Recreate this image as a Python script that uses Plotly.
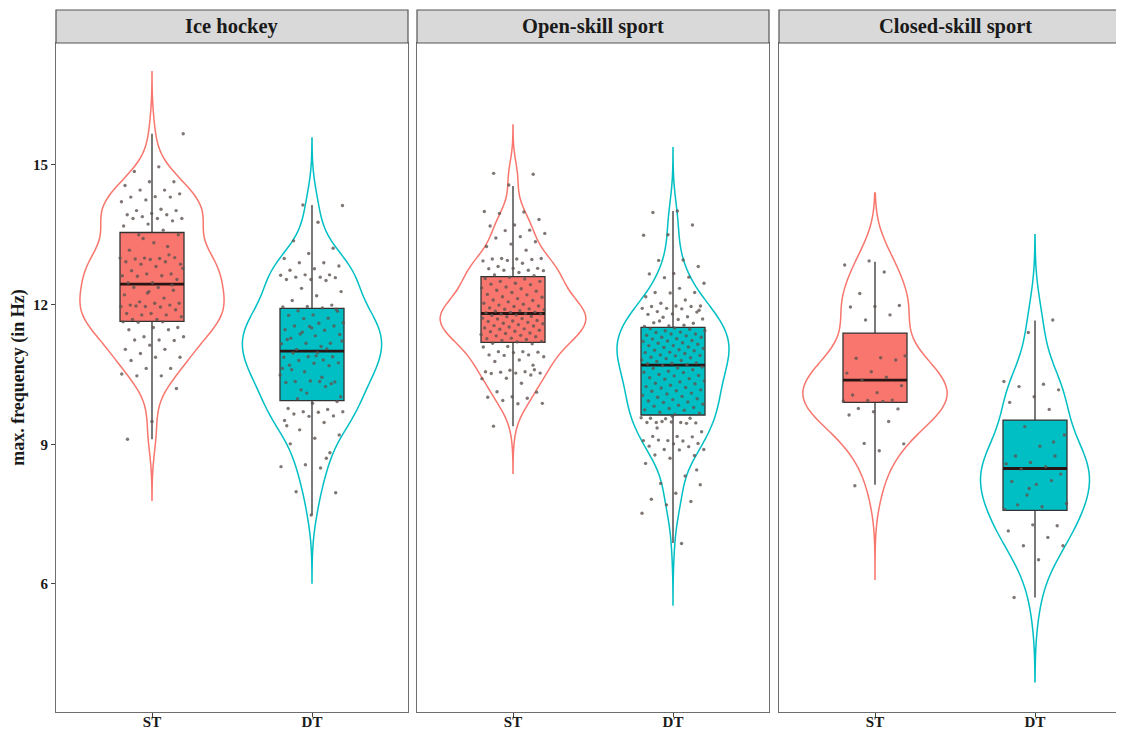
import plotly.graph_objects as go

# ---------------- data ----------------
panels = ["Ice hockey", "Open-skill sport", "Closed-skill sport"]
conditions = ["ST", "DT"]

ih_st = [15.67, 14.96, 14.86, 14.64, 14.64, 14.56, 14.46, 14.46, 14.38, 14.32, 14.31, 14.31, 14.25, 14.21,
         14.05, 14.02, 14.02, 13.96, 13.93, 13.93, 13.89, 13.85, 13.85, 13.85, 13.80, 13.73, 13.69, 13.60,
         13.50, 13.50,
         13.33, 13.17, 13.07, 13.00, 13.00, 12.99, 12.98, 13.01, 12.97, 12.92, 12.92, 12.87, 12.87, 12.82,
         12.73, 12.66, 12.66, 12.62, 12.62, 12.61, 12.54, 12.47, 12.47, 13.25, 13.42, 12.78,
         12.37, 12.37, 12.31, 12.28, 12.21, 12.14, 12.06, 12.03, 12.03, 11.99, 11.99, 11.96, 11.96, 11.95,
         11.97, 11.89, 11.81, 11.81, 11.78, 11.78, 11.74, 11.68, 11.68, 12.42, 12.25,
         11.63, 11.63, 11.62, 11.51, 11.51, 11.46, 11.46, 11.31, 11.31, 11.24, 11.24, 11.23, 11.13, 11.04,
         11.04, 10.95, 10.87, 10.87, 10.80, 10.63, 10.63, 10.51, 10.47, 10.47, 10.20, 9.49, 9.11]

ih_dt = [14.14, 14.13, 13.77, 13.37, 13.21, 13.10, 12.99, 12.90, 12.90, 12.83, 12.77, 12.74, 12.64, 12.64,
         12.63, 12.59, 12.59, 12.58, 12.54, 12.54, 12.52, 12.35, 12.28, 12.19, 12.09, 11.99, 11.96, 11.95,
         11.93,
         11.87, 11.86, 11.78, 11.77, 11.71, 11.70, 11.61, 11.60, 11.54, 11.54, 11.53, 11.46, 11.45, 11.37,
         11.36, 11.33, 11.28, 11.17, 11.17, 11.16, 11.10, 11.04, 11.90, 11.50, 11.25, 11.05, 11.41, 11.22,
         10.97, 10.96, 10.88, 10.88, 10.87, 10.81, 10.80, 10.75, 10.74, 10.70, 10.69, 10.56, 10.49, 10.35,
         10.35, 10.34, 10.36, 10.33, 10.24, 10.17, 10.02, 10.90, 10.60, 10.30, 10.10, 10.63, 10.44, 9.98,
         9.92, 9.88, 9.77, 9.75, 9.70, 9.70, 9.69, 9.65, 9.61, 9.60, 9.51, 9.47, 9.31, 9.20, 9.13, 9.01,
         8.82, 8.56, 8.52, 8.49, 7.98, 7.96, 7.48, 9.40, 8.70]

os_st = [14.82, 14.80, 14.57, 14.00, 13.99, 13.96, 13.83, 13.71, 13.69, 13.60, 13.59, 13.53, 13.46, 13.43,
         13.35, 13.30, 13.25, 13.17, 12.99, 12.99, 12.98, 12.98, 12.97, 12.95, 12.94, 12.89, 12.82, 12.78,
         12.78, 12.77, 12.74, 12.74, 12.73, 12.69, 12.64, 12.62,
         12.59, 12.56, 12.55, 12.50, 12.50, 12.46, 12.44, 12.43, 12.38, 12.36, 12.34, 12.31, 12.29, 12.26,
         12.22, 12.21, 12.17, 12.16, 12.13, 12.10, 12.09, 12.06, 12.03, 12.01, 11.99, 11.97, 11.96, 11.93,
         11.91, 11.90, 11.89, 11.87, 11.86, 11.84, 11.83, 11.82, 11.81,
         11.80, 11.80, 11.78, 11.77, 11.75, 11.74, 11.71, 11.70, 11.69, 11.66, 11.65, 11.64, 11.62, 11.60,
         11.59, 11.57, 11.55, 11.54, 11.52, 11.50, 11.48, 11.47, 11.45, 11.43, 11.42, 11.39, 11.38, 11.36,
         11.34, 11.33, 11.31, 11.28, 11.27, 11.25, 11.23, 11.21, 11.20,
         11.17, 11.16, 11.10, 11.09, 10.99, 10.99, 10.98, 10.97, 10.92, 10.92, 10.91, 10.88, 10.81, 10.78,
         10.60, 10.59, 10.56, 10.56, 10.55, 10.53, 10.53, 10.52, 10.49, 10.42, 10.41, 10.31, 10.13, 10.12,
         10.02, 10.01, 9.99, 9.94, 9.88, 9.87, 9.39, 10.70]

os_dt = [14.01, 13.98, 13.71, 13.50, 13.49, 12.96, 12.95, 12.82, 12.67, 12.66, 12.59, 12.58, 12.46, 12.35,
         12.26, 12.26, 12.25, 12.17, 12.10, 12.03, 11.97, 11.97, 11.96, 11.96, 11.92, 11.92, 11.91, 11.85,
         11.84, 11.80, 11.79, 11.74, 11.73, 11.69, 11.68, 11.61, 11.60, 11.54, 11.53, 11.56, 11.65, 11.88,
         11.50, 11.48, 11.47, 11.44, 11.44, 11.41, 11.40, 11.37, 11.37, 11.34, 11.33, 11.30, 11.30, 11.27,
         11.26, 11.23, 11.22, 11.21, 11.18, 11.17, 11.15, 11.12, 11.12, 11.09, 11.08, 11.06, 11.03, 11.02,
         11.01, 10.98, 10.97, 10.95, 10.92, 10.91, 10.90, 10.87, 10.86, 10.84, 10.81, 10.80, 10.78, 10.75,
         10.74, 10.73, 10.71,
         10.69, 10.66, 10.64, 10.63, 10.60, 10.57, 10.55, 10.54, 10.50, 10.48, 10.47, 10.43, 10.41, 10.40,
         10.36, 10.34, 10.31, 10.30, 10.27, 10.24, 10.22, 10.21, 10.17, 10.15, 10.14, 10.10, 10.08, 10.05,
         10.03, 10.01, 9.98, 9.96, 9.93, 9.91, 9.90, 9.86, 9.84, 9.82, 9.79, 9.77, 9.74, 9.73, 9.69,
         9.67, 9.64,
         9.56, 9.56, 9.55, 9.57, 9.47, 9.47, 9.46, 9.48, 9.47, 9.45, 9.49, 9.27, 9.17, 9.17, 9.16, 9.08,
         9.08, 9.07, 9.09, 9.02, 9.01, 8.96, 8.95, 8.89, 8.89, 8.88, 8.77, 8.76, 8.70, 8.59, 8.32, 8.16,
         8.13, 7.95, 7.82, 7.77, 7.70, 7.52, 6.87, 9.35, 8.45, 9.60]

cs_st = [12.94, 12.85, 12.70, 12.24, 11.98, 11.96, 11.95, 11.78, 11.67, 10.90, 10.86, 10.85, 10.81, 10.56,
         10.53, 10.44, 10.38, 10.26, 10.11, 10.06, 9.95, 9.94, 9.93, 9.92, 9.77, 9.76, 9.70, 9.63, 9.49,
         9.02, 9.01, 8.86, 8.11]

cs_dt = [11.67, 11.40, 10.35, 10.29, 10.24, 10.17, 10.02, 9.90, 9.75, 9.38, 9.20, 8.96, 8.75, 8.75, 8.61,
         8.58, 8.52, 8.47, 8.36, 8.14, 8.20, 8.22, 7.91, 7.73, 7.66, 7.70, 7.25, 7.27, 7.14, 7.00, 6.82,
         6.82, 6.52, 5.71, 9.05, 8.05, 7.60]

values = [[ih_st, ih_dt], [os_st, os_dt], [cs_st, cs_dt]]

# box statistics: [lower whisker, Q1, median, Q3, upper whisker]
box_stats = [
    [[9.11, 11.64, 12.44, 13.55, 15.67], [7.48, 9.94, 11.00, 11.92, 14.14]],
    [[9.39, 11.19, 11.81, 12.60, 14.55], [6.88, 9.63, 10.70, 11.51, 14.01]],
    [[8.13, 9.90, 10.38, 11.39, 12.92], [5.71, 7.58, 8.48, 9.52, 11.66]],
]

# violin extents (tails)
violin_span = [
    [[7.80, 17.00], [6.02, 15.58]],
    [[8.38, 15.86], [5.55, 15.37]],
    [[6.10, 14.40], [3.90, 13.50]],
]
violin_bw = [[0.44, 0.48], [0.34, 0.45], [0.56, 0.64]]
violin_width = [[0.90, 0.87], [0.91, 0.70], [0.90, 0.68]]

y_ticks = [6, 9, 12, 15]
y_title = "max. frequency (in Hz)"

# ---------------- style ----------------
FONT = "Liberation Serif"
COLORS = ["#F8766D", "#00BFC4"]
BORDER = "#6e6e6e"
TEXT = "#1a1a1a"

# the page body adds an 8px offset; figure is sized so that the page matches 1124x733
OFF = 8
W, H = 1124 - OFF, 733 - OFF
ML, MR, MT, MB = 56 - OFF, 0, 43 - OFF, 733 - 712
PW = W - ML - MR
PH = H - MT - MB
panel_px = [(56 - OFF, 408 - OFF), (417 - OFF, 769 - OFF), (779 - OFF, 1124 - OFF)]
UNIT = 352 / 2.2  # px per x unit

fig = go.Figure()

for p in range(3):
    ax = "" if p == 0 else str(p + 1)
    xref, yref = "x" + ax, "y" + ax
    for c in range(2):
        pos = c + 1
        vals = values[p][c]
        col = COLORS[c]
        # violin outline
        fig.add_trace(go.Violin(
            x0=pos, y=vals, xaxis=xref, yaxis=yref, name=conditions[c],
            width=violin_width[p][c], scalemode="width", spanmode="manual",
            span=violin_span[p][c], bandwidth=violin_bw[p][c],
            line=dict(color=col, width=1.5), fillcolor="rgba(255,255,255,0)",
            points=False, box_visible=False, meanline_visible=False,
            showlegend=False, hoverinfo="skip",
        ))
        lo, q1, med, q3, hi = box_stats[p][c]
        # box + whiskers
        fig.add_trace(go.Box(
            x=[pos], q1=[q1], median=[med], q3=[q3], lowerfence=[lo], upperfence=[hi],
            xaxis=xref, yaxis=yref, width=0.4, whiskerwidth=0,
            fillcolor=col, line=dict(color="#333333", width=1.3),
            boxpoints=False, showlegend=False, hoverinfo="skip",
        ))
        # thicker median bar
        fig.add_trace(go.Box(
            x=[pos], q1=[med], median=[med], q3=[med], lowerfence=[med], upperfence=[med],
            xaxis=xref, yaxis=yref, width=0.4, whiskerwidth=0,
            fillcolor="rgba(0,0,0,0)", line=dict(color="#2a1515", width=2.8),
            boxpoints=False, showlegend=False, hoverinfo="skip",
        ))
        # jittered points (deterministic golden-ratio jitter, +-0.2 units)
        n = len(vals)
        xs = [pos + ((((i + 1) * 0.6180339887 + 0.37 * (c + 1) + 0.21 * p) % 1.0) * 2 - 1) * 0.2
              for i in range(n)]
        fig.add_trace(go.Scatter(
            x=xs, y=vals, xaxis=xref, yaxis=yref, mode="markers",
            marker=dict(size=3.4, color="rgba(95,85,80,0.8)"),
            showlegend=False, hoverinfo="skip",
        ))

# ---------------- axes / layout ----------------
layout = dict(
    width=W, height=H,
    margin=dict(l=ML, r=MR, t=MT, b=MB, autoexpand=False),
    paper_bgcolor="white", plot_bgcolor="white",
    showlegend=False, violinmode="overlay", boxmode="overlay",
    font=dict(family=FONT, color=TEXT),
)
shapes, annotations = [], []
for p in range(3):
    ax = "" if p == 0 else str(p + 1)
    x0px, x1px = panel_px[p]
    d0 = (x0px - ML) / PW
    d1 = (x1px - ML) / PW
    xr_hi = 0.4 + (x1px - x0px) / UNIT
    layout["xaxis" + ax] = dict(
        domain=[d0, d1], range=[0.4, xr_hi], anchor="y" + ax,
        tickmode="array", tickvals=[1, 2], ticktext=conditions,
        showline=True, mirror=True, linecolor=BORDER, linewidth=1.2,
        ticks="outside", ticklen=4, tickcolor="#444444", tickwidth=1,
        ticklabelstandoff=-8,
        showgrid=False, zeroline=False, automargin=False,
        tickfont=dict(family=FONT, size=15, color=TEXT, weight="bold"),
    )
    ydict = dict(
        domain=[0, 1], range=[3.25, 17.62], anchor="x" + ax,
        showline=True, mirror=(p < 2), linecolor=BORDER, linewidth=1.2,
        showgrid=False, zeroline=False, automargin=False,
    )
    if p == 0:
        ydict.update(
            tickmode="array", tickvals=y_ticks, ticks="outside", ticklen=4,
            tickcolor="#444444", tickwidth=1,
            tickfont=dict(family=FONT, size=15, color=TEXT, weight="bold"),
            title=dict(text=y_title, standoff=4,
                       font=dict(family=FONT, size=18, color=TEXT, weight="bold")),
        )
    else:
        ydict.update(showticklabels=False, ticks="", matches="y")
    layout["yaxis" + ax] = ydict

    strip_h = 33 / PH
    shapes.append(dict(
        type="rect", xref="x" + ax + " domain", yref="y" + ax + " domain",
        x0=0, x1=1 if p < 2 else 1.01, y0=1, y1=1 + strip_h,
        fillcolor="#D9D9D9", line=dict(color="#555555", width=1.2), layer="above",
    ))
    annotations.append(dict(
        xref="x" + ax + " domain", yref="y" + ax + " domain",
        x=0.5 if p < 2 else 0.5 * 352 / 345, y=1 + strip_h / 2,
        text=panels[p], showarrow=False, xanchor="center", yanchor="middle",
        font=dict(family=FONT, size=20.5, color=TEXT, weight="bold"),
    ))

layout["shapes"] = shapes
layout["annotations"] = annotations
fig.update_layout(**layout)

fig.write_html("out.html")
